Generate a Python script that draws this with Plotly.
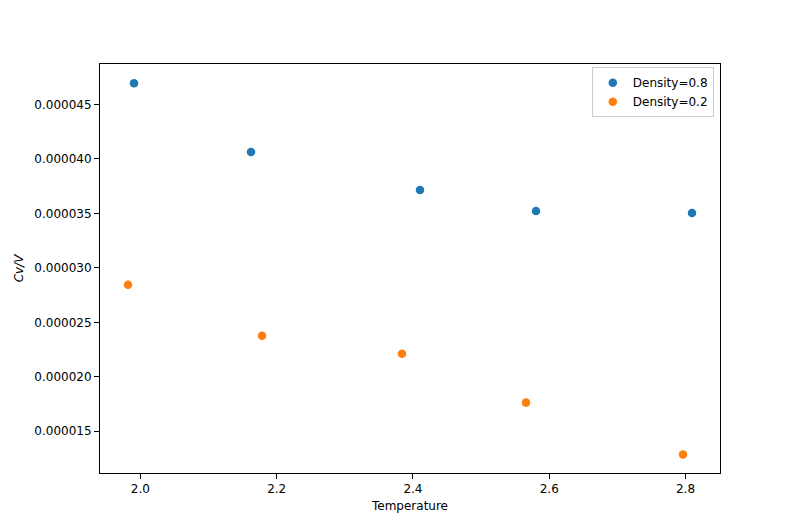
import plotly.graph_objects as go

temp_high = [1.9906, 2.1623, 2.4103, 2.5806, 2.8095]
cv_high = [46.95e-6, 40.63e-6, 37.14e-6, 35.22e-6, 35.04e-6]
temp_low = [1.9818, 2.1785, 2.3839, 2.5659, 2.7963]
cv_low = [28.44e-6, 23.77e-6, 22.12e-6, 17.63e-6, 12.87e-6]

x_ticks = [2.0, 2.2, 2.4, 2.6, 2.8]
y_ticks = [15e-6, 20e-6, 25e-6, 30e-6, 35e-6, 40e-6, 45e-6]

fig = go.Figure()
fig.add_trace(go.Scatter(x=temp_high, y=cv_high, mode="markers", name="Density=0.8",
                         marker=dict(color="#1f77b4", size=8.5)))
fig.add_trace(go.Scatter(x=temp_low, y=cv_low, mode="markers", name="Density=0.2",
                         marker=dict(color="#ff7f0e", size=8.5)))

axis_common = dict(showline=True, linecolor="black", linewidth=1, mirror=True,
                   ticks="outside", ticklen=5, tickcolor="black", tickwidth=1,
                   showgrid=False, zeroline=False,
                   tickfont=dict(family="DejaVu Sans", size=12, color="black"))

fig.update_layout(
    width=800, height=532,
    margin=dict(l=100, r=80, t=64, b=58.5),
    paper_bgcolor="white", plot_bgcolor="white",
    font=dict(family="DejaVu Sans", size=12, color="black"),
    xaxis=dict(range=[1.9407, 2.8506], tickvals=x_ticks, tickformat=".1f",
               title=dict(text="Temperature", font=dict(size=12), standoff=6), **axis_common),
    yaxis=dict(range=[11.17e-6, 48.71e-6], tickvals=y_ticks, tickformat=".6f",
               title=dict(text="<i>Cv/V</i>", font=dict(size=12), standoff=8), **axis_common),
    legend=dict(x=0.990, y=0.992, xanchor="right", yanchor="top",
                bordercolor="#cccccc", borderwidth=1, bgcolor="white",
                font=dict(size=12), tracegroupgap=0, itemwidth=30),
    showlegend=True,
)

fig.write_html("out.html")
